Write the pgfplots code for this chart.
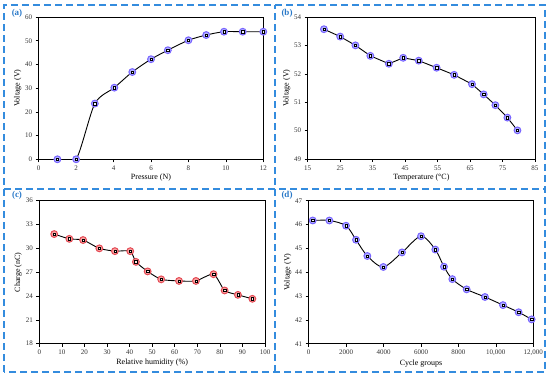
\documentclass[border=0pt]{standalone}
\usepackage{pgfplots}
\usepackage{pgfplotstable}
\usepackage{fontspec}
\setmainfont{Liberation Serif}
\pgfplotsset{compat=1.18}
\definecolor{framebl}{RGB}{52,140,222}
\definecolor{labbl}{RGB}{40,120,200}
\definecolor{mkfill}{RGB}{175,175,255}
\definecolor{mkdraw}{RGB}{120,100,255}
\definecolor{mkin}{RGB}{238,238,255}
\definecolor{rdfill}{RGB}{250,160,160}
\definecolor{rddraw}{RGB}{228,75,85}
\definecolor{rdin}{RGB}{255,230,230}

\pgfplotstableread{
x y
1 0
2 0
3 23.5
4.04 30.2
5 36.8
6 42.2
6.9 46.0
8 50.2
8.95 52.4
9.9 53.8
10.9 53.8
12 53.8
}\tA
\pgfplotstableread{
x y
20 53.58
25 53.32
29.7 53.01
34.3 52.64
40 52.36
44.4 52.57
49.2 52.47
54.7 52.22
60.1 51.97
65.6 51.64
69.2 51.28
72.8 50.90
76.5 50.46
79.6 50.01
}\tB
\pgfplotstableread{
x y
6.6 31.8
13.3 31.2
19.4 31.05
26.6 30.0
33.5 29.65
40.3 29.65
42.8 28.3
48 27.1
54 26.1
61.9 25.9
69.4 25.9
77.2 26.75
82.1 24.7
88 24.15
94.4 23.65
}\tC
\pgfplotstableread{
x y
214 46.17
1104 46.17
1994 45.95
2528 45.36
3133 44.68
3988 44.22
4985 44.83
6000 45.51
6765 44.95
7228 44.23
7673 43.71
8439 43.28
9418 42.96
10380 42.62
11216 42.32
11910 42.02
}\tD

\pgfplotsset{
  myax/.style={
    scale only axis,
    xtick pos=left, ytick pos=left,
    tick align=outside,
    major tick length=3pt,
    minor tick num=0,
    axis line style={line width=0.8pt},
    every tick/.style={black, line width=0.6pt},
    /pgf/number format/assume math mode=true,
    /pgf/number format/set thousands separator={},
    tick label style={font=\fontsize{7}{8}\selectfont, text=black!80},
    label style={font=\fontsize{8}{9}\selectfont},
    xlabel style={yshift=3pt},
    ylabel style={yshift=-3pt},
    scaled ticks=false,
  },
  bluemk/.style={only marks, mark=*, mark size=3.4pt, mark options={fill=mkfill, draw=mkdraw, line width=1pt}},
  bluein/.style={only marks, mark=square*, mark size=1.2pt, mark options={fill=mkin, draw=none}},
  redmk/.style={only marks, mark=*, mark size=3.4pt, mark options={fill=rdfill, draw=rddraw, line width=1pt}},
  redin/.style={only marks, mark=square*, mark size=1.2pt, mark options={fill=rdin, draw=none}},
  curve/.style={black, line width=0.9pt, no marks},
}

\begin{document}
\begin{tikzpicture}[x=1pt,y=1pt]
\useasboundingbox (0,0) rectangle (550,377);
% frame
\begin{scope}[framebl, line width=1.3pt, dash pattern=on 7pt off 4pt]
\draw (4,5) rectangle (545,372);
\draw (275,5) -- (275,372);
\draw (4,188) -- (545,188);
\end{scope}
\node[labbl, font=\bfseries\fontsize{9}{10}\selectfont] at (17,364) {(a)};
\node[labbl, font=\bfseries\fontsize{9}{10}\selectfont] at (287,364) {(b)};
\node[labbl, font=\bfseries\fontsize{9}{10}\selectfont] at (17,182) {(c)};
\node[labbl, font=\bfseries\fontsize{9}{10}\selectfont] at (287,182) {(d)};

% (a)
\begin{axis}[myax, anchor=south west, at={(38.7pt,217.7pt)}, width=224.6pt, height=142.3pt,
  xmin=0, xmax=12, ymin=0, ymax=60, xtick={0,2,...,12}, ytick={0,10,...,60},
  xlabel={Pressure (N)}, ylabel={Voltage (V)}]
\addplot[curve, smooth, tension=0.45] table {\tA};
\addplot[bluemk] table {\tA};
\addplot[bluein] table {\tA};
\end{axis}

% (b)
\begin{axis}[myax, anchor=south west, at={(307.7pt,218pt)}, width=227.3pt, height=141.7pt,
  xmin=15, xmax=85, ymin=49, ymax=54, xtick={15,25,...,85}, ytick={49,...,54},
  xlabel={Temperature (°C)}, ylabel={Voltage (V)}]
\addplot[curve] table {\tB};
\addplot[bluemk] table {\tB};
\addplot[bluein] table {\tB};
\end{axis}

% (c)
\begin{axis}[myax, anchor=south west, at={(39.3pt,33.3pt)}, width=225.7pt, height=143pt,
  xmin=0, xmax=100, ymin=18, ymax=36, xtick={0,10,...,100}, ytick={18,21,...,36},
  xlabel={Relative humidity (\%)}, ylabel={Charge (nC)}]
\addplot[curve, smooth, tension=0.4] table {\tC};
\addplot[redmk] table {\tC};
\addplot[redin] table {\tC};
\end{axis}

% (d)
\begin{axis}[myax, anchor=south west, at={(308.7pt,33.3pt)}, width=224.6pt, height=143pt,
  xmin=0, xmax=12000, ymin=41, ymax=47, xtick={0,2000,...,12000},
  xticklabels={0,2000,4000,6000,8000,{10,000},{12,000}}, ytick={41,...,47},
  xlabel={Cycle groups}, ylabel={Voltage (V)}]
\addplot[curve, smooth, tension=0.5] table {\tD};
\addplot[bluemk] table {\tD};
\addplot[bluein] table {\tD};
\end{axis}
\end{tikzpicture}
\end{document}
